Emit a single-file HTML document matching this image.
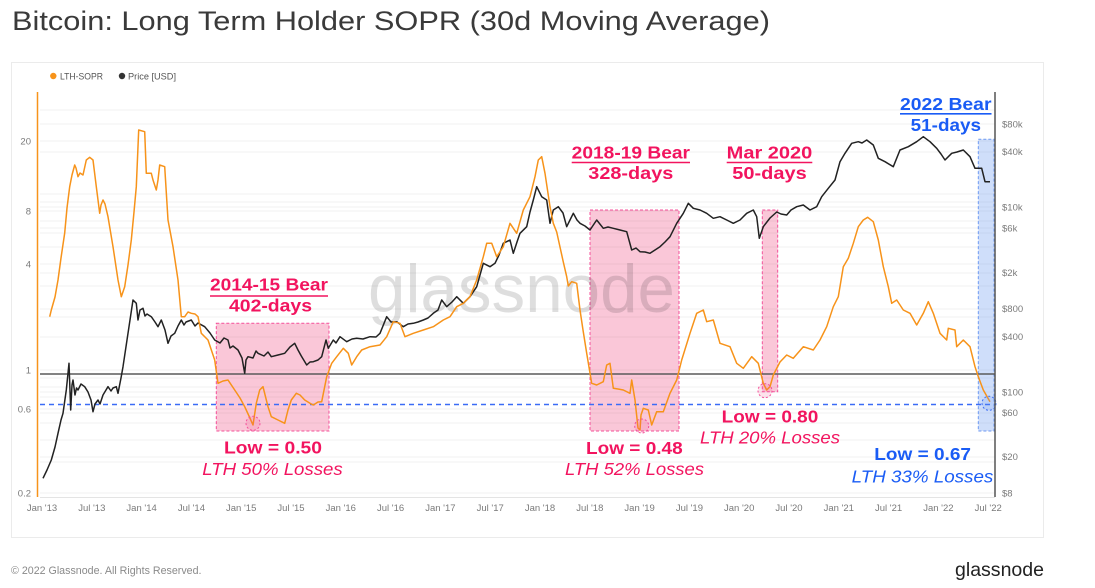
<!DOCTYPE html>
<html><head><meta charset="utf-8"><style>
html,body{margin:0;padding:0;background:#fff;}
svg{display:block;}
text{font-family:"Liberation Sans",sans-serif;}
</style></head><body>
<svg width="1095" height="588" viewBox="0 0 1095 588" xmlns="http://www.w3.org/2000/svg">
<rect width="1095" height="588" fill="#fff"/>
<text x="12" y="30" font-size="27" fill="#3a3a3a" textLength="758" lengthAdjust="spacingAndGlyphs">Bitcoin: Long Term Holder SOPR (30d Moving Average)</text>
<rect x="11.5" y="62.5" width="1032" height="475" fill="#fff" stroke="#ebebeb" stroke-width="1"/>
<!-- legend -->
<circle cx="53.3" cy="76" r="3.2" fill="#f7931a"/>
<text x="60" y="79.3" font-size="9" fill="#555" textLength="43" lengthAdjust="spacingAndGlyphs">LTH-SOPR</text>
<circle cx="122" cy="76" r="3.2" fill="#333"/>
<text x="128" y="79.3" font-size="9" fill="#555" textLength="48" lengthAdjust="spacingAndGlyphs">Price [USD]</text>
<!-- gridlines -->
<g stroke="#f0f0f0" stroke-width="1">
<line x1="40" x2="995" y1="493" y2="493"/><line x1="40" x2="995" y1="462" y2="462"/><line x1="40" x2="995" y1="440" y2="440"/><line x1="40" x2="995" y1="423" y2="423"/><line x1="40" x2="995" y1="409" y2="409"/><line x1="40" x2="995" y1="397" y2="397"/><line x1="40" x2="995" y1="387" y2="387"/><line x1="40" x2="995" y1="378" y2="378"/><line x1="40" x2="995" y1="370" y2="370"/><line x1="40" x2="995" y1="317" y2="317"/><line x1="40" x2="995" y1="286" y2="286"/><line x1="40" x2="995" y1="264" y2="264"/><line x1="40" x2="995" y1="247" y2="247"/><line x1="40" x2="995" y1="233" y2="233"/><line x1="40" x2="995" y1="221" y2="221"/><line x1="40" x2="995" y1="211" y2="211"/><line x1="40" x2="995" y1="202" y2="202"/><line x1="40" x2="995" y1="194" y2="194"/><line x1="40" x2="995" y1="141" y2="141"/><line x1="40" x2="995" y1="110" y2="110"/>
<line x1="40" x2="995" y1="124" y2="124"/><line x1="40" x2="995" y1="152" y2="152"/><line x1="40" x2="995" y1="207" y2="207"/><line x1="40" x2="995" y1="228" y2="228"/><line x1="40" x2="995" y1="273" y2="273"/><line x1="40" x2="995" y1="309" y2="309"/><line x1="40" x2="995" y1="337" y2="337"/><line x1="40" x2="995" y1="392" y2="392"/><line x1="40" x2="995" y1="413" y2="413"/><line x1="40" x2="995" y1="457" y2="457"/>
</g>
<line x1="40" x2="995" y1="497.5" y2="497.5" stroke="#e4e4e4" stroke-width="1"/>
<!-- regions -->
<g stroke-dasharray="3,2" stroke-width="1">
<rect x="216.3" y="323.3" width="112.7" height="107.7" fill="#f0457f" fill-opacity="0.3" stroke="#f4509a"/>
<rect x="590" y="210" width="89" height="221" fill="#f0457f" fill-opacity="0.3" stroke="#f4509a"/>
<rect x="762.3" y="210" width="15.4" height="181.7" fill="#f0457f" fill-opacity="0.3" stroke="#f4509a"/>
<rect x="978.3" y="139.3" width="15.7" height="291.7" fill="#6e9cf0" fill-opacity="0.33" stroke="#6f9af2"/>
</g>
<!-- watermark -->
<text x="368" y="312" font-size="68" fill="#000" fill-opacity="0.13" textLength="307" lengthAdjust="spacingAndGlyphs">glassnode</text>
<!-- reference lines -->
<line x1="40" x2="995" y1="374" y2="374" stroke="#5a5a5a" stroke-width="1.4"/>
<line x1="40" x2="995" y1="404.5" y2="404.5" stroke="#3b6cf6" stroke-width="1.4" stroke-dasharray="5,4"/>
<!-- price -->
<polyline fill="none" stroke="#222" stroke-width="1.5" stroke-linejoin="round" points="43,478.3 47,470 51.3,460 55,447 58,433.3 61,420 63,413.3 66.3,390 69,363.3 70.7,410 72,385 73,380 75,395 76.5,388 78,390 81,384 84.7,386.7 88,392 91,400 93,411.7 95,404 98,400 100,404 103,395 106,390 108,386.7 111,391 113,388 116.3,386.7 118,393.3 121,378 123,366.7 128,333.3 133,300 136.3,303.3 138,320 140,310 143,308.3 145,316 147,314 151.3,316.7 155,322 158,326.7 161.3,320 165,330 168,343.3 171,336 174.7,333.3 178,326 181.3,320 184,325 186,322 191.3,320 195,326 198,323 204.7,326.7 210,333 214.7,340 220,343 224,338 228,340 230,348 233,346 238,350 242,358 244.7,373.3 246,360 248,356.7 253,358 256,351 258,353.3 264,356 268,352 271.3,356.7 278,355 284.7,353.3 290,347 294.7,343.3 298,350 301.3,356 306.7,365 310,362 313.3,361.7 318,360 321.7,356.7 326,340 328.3,348.3 333.3,340 336,343 340,336.7 346.7,341.7 352,339 356.7,338.3 363,339 370,336.7 376,337 380,333.3 386.7,316.7 391,322 396.7,321.7 403.3,326.7 408,324 413.3,323.3 418,322 423.3,320 428,318 433.3,313.3 438,310 441.7,300 446.7,306.7 452,302 456.7,296.7 463.3,303.3 470,296.7 476.7,286.7 480,275 483.3,263.3 490,266.7 495,263.3 499,255 503.3,243.3 510,240 513.3,253.3 517,242 520,233.3 526.7,226.7 530,212 533.3,200 536.7,186.7 541.7,196.7 546.7,200 550,223.3 553.3,210 558.3,206.7 563,213 566.7,226.7 570,220 573.3,213.3 577,220 580,223.3 585,226 590,230 596.7,220 603.3,228.3 608,227 613.3,228.3 620,230 626.7,231.7 631.7,250 636,248 640,251.7 645,252 650,253.3 655,250 660,246.7 665,242 670,236.7 676.7,223.3 683.3,213.3 688.3,203.3 693.3,208.3 700,210 706.7,213.3 713.3,218.3 720,216.7 726.7,220 733.3,223.3 740,220 746.7,213.3 753.3,210 756.7,216.7 759.3,238.3 763.3,226.7 770,218 776.7,212 781,214 786.7,215 791,210 796.7,206.7 803.3,205 810,210 816.7,206.7 821.7,196.7 828.3,188.3 835,180 840,161.7 845,153.3 851.7,143.3 858.3,141.7 862,143 866.7,140 873.3,145 878.3,158.3 885,161.7 893.3,166.7 900,150 908.3,146.7 916.7,141.7 923.3,136.7 930,141.7 936.7,148.3 941,154 945,160 951.7,153.3 957,152 963.3,150 970,156.7 975,168.3 981.7,168.3 985,181.7 990,181.7"/>
<!-- LTH-SOPR -->
<polyline fill="none" stroke="#f7931a" stroke-width="1.5" stroke-linejoin="round" points="49.7,316.7 51.3,310 55,297 58,280 61,258 64.7,233 67,208 69.7,186.7 72,175 74.7,165 76,168 78,176.7 80,173 83,175 86.3,160 89.7,157.3 93,160 96.3,186.7 99.7,213.3 101,205 103,200 105,204 108,216.7 113,246.7 118,280 121.3,296.7 124.7,286.7 128,265 131.3,240 134,212 136.3,186.7 138.7,130 144.7,131.7 146.3,173.3 151.3,173.3 153,180 156.3,190 158,180 159.7,165 164.7,166.7 168,220 173,246.7 178,280 181.3,316.7 184.7,316.7 188,312 191.3,313.3 195,314 198,316.7 201.3,333.3 208,340 214.7,360 218,383.3 223,381 228,380 234.7,390 240,398 244.7,406.7 249,416 253,425 256.3,403.3 259.7,390 263,386.7 268,406.7 271.3,416.7 278,420 284.7,423.3 288,410 291.3,400 296.3,393.3 300,395 304.7,400 310,403.3 313.3,405 318,402 321.7,401.7 326.7,376.7 331.7,363.3 336.7,356.7 343.3,348.3 348.3,353.3 351.7,365 356.7,356.7 361.7,350 370,346.7 380,345 386.7,336.7 393.3,321.7 400,323.3 405,336.7 413.3,333.3 423.3,330 433.3,326.7 443.3,320 450,316.7 456.7,306.7 463.3,303.3 470,296.7 476.7,280 483.3,256.7 486.7,243.3 491.7,243.3 496.7,256.7 503.3,246.7 510,223.3 516.7,233.3 523.3,210 530,196.7 535,176.7 538.3,160 541.7,156.7 545,173.3 550,206.7 553.3,223.3 556.7,232 560,247 563.3,262 566.7,276.7 568.3,286 571.7,281.7 576.7,283.3 580,310 583,330 586.7,353.3 591.7,383.3 596.7,385 603.3,381.7 606.7,365 610,363.3 613.3,388.3 618,389 623.3,390 630,393.3 631.7,380 635,400 638,428 640,430 641,415 643.3,408.3 648.3,410 651.7,425 656.7,411.7 663.3,411.7 670,393.3 676.7,380 681.7,360 690,333.3 696.7,313.3 703.3,310 706.7,321.7 713.3,320 720,343.3 730,346.7 736.7,363.3 743.3,368.3 751.7,356.7 758.3,363.3 763.3,383.3 766.7,390 770,386.7 773.3,375 780,362 786.7,355 793.3,358.3 803.3,346.7 813.3,350 820,340 826.7,326.7 833.3,306.7 838.3,296.7 843.3,266.7 848.3,258.3 853.3,243.3 858.3,226.7 863.3,220 867.7,217.3 873.3,221.7 878.3,240 883.3,266.7 888.3,286.7 891.7,303.3 896.7,300 903.3,310 910,313.3 916.7,325 923.3,313.3 928.3,301.7 933.3,313.3 940,333.3 946.7,340 948.3,328.3 955,330 956.7,346.7 963.3,340 970,346.7 975,366.7 978.3,376.7 983.3,390 990,401.7"/>
<!-- low circles -->
<g stroke-dasharray="2,2" stroke-width="1">
<circle cx="253" cy="423.3" r="7" fill="#f0457f" fill-opacity="0.15" stroke="#f4509a"/>
<circle cx="641.7" cy="426" r="7" fill="#f0457f" fill-opacity="0.15" stroke="#f4509a"/>
<circle cx="765" cy="390.7" r="7" fill="#f0457f" fill-opacity="0.15" stroke="#f4509a"/>
<circle cx="989" cy="403.3" r="7" fill="#6e9cf0" fill-opacity="0.2" stroke="#3b6cf6"/>
</g>
<!-- axes -->
<line x1="37.5" x2="37.5" y1="92" y2="497" stroke="#f7931a" stroke-width="1.5"/>
<line x1="995" x2="995" y1="92" y2="497" stroke="#555" stroke-width="1.5"/>
<g font-size="9.5" fill="#7a7a7a" text-anchor="end">
<text x="31" y="144.3">20</text><text x="31" y="214.3">8</text><text x="31" y="267.3">4</text><text x="31" y="373.3">1</text><text x="31" y="412.3">0.6</text><text x="31" y="496.3">0.2</text>
</g>
<g font-size="9.5" fill="#7a7a7a">
<text x="1002" y="127.3">$80k</text><text x="1002" y="155">$40k</text><text x="1002" y="210.5">$10k</text><text x="1002" y="231.5">$6k</text><text x="1002" y="276">$2k</text><text x="1002" y="312">$800</text><text x="1002" y="340">$400</text><text x="1002" y="395.5">$100</text><text x="1002" y="416">$60</text><text x="1002" y="460">$20</text><text x="1002" y="496.5">$8</text>
</g>
<g font-size="9.5" fill="#7a7a7a" text-anchor="middle">
<text x="42" y="511">Jan '13</text><text x="91.8" y="511">Jul '13</text><text x="141.6" y="511">Jan '14</text><text x="191.4" y="511">Jul '14</text><text x="241.2" y="511">Jan '15</text><text x="291" y="511">Jul '15</text><text x="340.8" y="511">Jan '16</text><text x="390.6" y="511">Jul '16</text><text x="440.4" y="511">Jan '17</text><text x="490.2" y="511">Jul '17</text><text x="540" y="511">Jan '18</text><text x="589.8" y="511">Jul '18</text><text x="639.6" y="511">Jan '19</text><text x="689.4" y="511">Jul '19</text><text x="739.2" y="511">Jan '20</text><text x="789" y="511">Jul '20</text><text x="838.8" y="511">Jan '21</text><text x="888.6" y="511">Jul '21</text><text x="938.4" y="511">Jan '22</text><text x="988.2" y="511">Jul '22</text>
</g>
<!-- annotations pink -->
<g fill="#f2145f" font-size="17.5" font-weight="bold">
<text x="210" y="290.5" textLength="118" lengthAdjust="spacingAndGlyphs">2014-15 Bear</text>
<text x="229" y="311.5" textLength="83" lengthAdjust="spacingAndGlyphs">402-days</text>
<text x="224" y="453.3" textLength="98" lengthAdjust="spacingAndGlyphs">Low = 0.50</text>
<text x="571.7" y="158.3" textLength="118.3" lengthAdjust="spacingAndGlyphs">2018-19 Bear</text>
<text x="588.3" y="179" textLength="85" lengthAdjust="spacingAndGlyphs">328-days</text>
<text x="726.7" y="158.3" textLength="85.6" lengthAdjust="spacingAndGlyphs">Mar 2020</text>
<text x="732.3" y="179" textLength="74.4" lengthAdjust="spacingAndGlyphs">50-days</text>
<text x="586" y="454" textLength="96.7" lengthAdjust="spacingAndGlyphs">Low = 0.48</text>
<text x="721.7" y="422.7" textLength="96.6" lengthAdjust="spacingAndGlyphs">Low = 0.80</text>
</g>
<g stroke="#f2145f" stroke-width="1.6">
<line x1="210" x2="328" y1="296" y2="296"/>
<line x1="571.7" x2="690" y1="162.5" y2="162.5"/>
<line x1="726.7" x2="812.3" y1="162.5" y2="162.5"/>
</g>
<g fill="#f2145f" font-size="17.5" font-style="italic">
<text x="202.3" y="475" textLength="140.4" lengthAdjust="spacingAndGlyphs">LTH 50% Losses</text>
<text x="565" y="475" textLength="139" lengthAdjust="spacingAndGlyphs">LTH 52% Losses</text>
<text x="700" y="443.3" textLength="140" lengthAdjust="spacingAndGlyphs">LTH 20% Losses</text>
</g>
<!-- annotations blue -->
<g fill="#1a5cf5" font-size="17.5" font-weight="bold">
<text x="900" y="110" textLength="91.5" lengthAdjust="spacingAndGlyphs">2022 Bear</text>
<text x="910.7" y="131" textLength="70.3" lengthAdjust="spacingAndGlyphs">51-days</text>
<text x="874.3" y="460" textLength="96.7" lengthAdjust="spacingAndGlyphs">Low = 0.67</text>
</g>
<line x1="900" x2="991.5" y1="113.8" y2="113.8" stroke="#1a5cf5" stroke-width="1.6"/>
<text x="851.7" y="482.3" fill="#1a5cf5" font-size="17.5" font-style="italic" textLength="141.6" lengthAdjust="spacingAndGlyphs">LTH 33% Losses</text>
<!-- footer -->
<text x="11" y="574" font-size="11" fill="#8a8a8a" textLength="190.5" lengthAdjust="spacingAndGlyphs">© 2022 Glassnode. All Rights Reserved.</text>
<text x="955" y="576" font-size="19.5" fill="#222" textLength="89" lengthAdjust="spacingAndGlyphs">glassnode</text>
</svg>
</body></html>
